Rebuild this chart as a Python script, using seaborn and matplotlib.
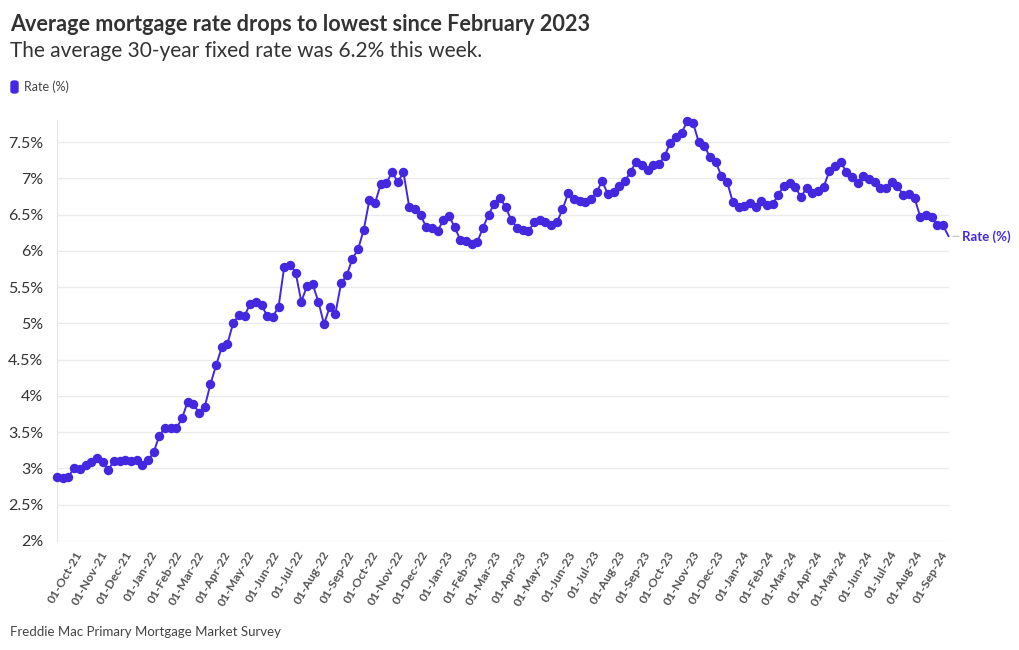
import numpy as np
import pandas as pd
import seaborn as sns
import matplotlib.pyplot as plt
import matplotlib.dates as mdates
from matplotlib.ticker import FuncFormatter
from matplotlib.patches import FancyBboxPatch

# Freddie Mac PMMS, 30-year fixed, weekly from 09-Sep-2021
start_date = "2021-09-09"
rates = [
    2.88, 2.86, 2.88, 3.01, 2.99, 3.05, 3.09, 3.14, 3.09, 2.98, 3.10, 3.10, 3.11, 3.10, 3.12, 3.05, 3.11,
    # 2022
    3.22, 3.45, 3.56, 3.55, 3.55, 3.69, 3.92, 3.89, 3.76, 3.85, 4.16, 4.42, 4.67,
    4.72, 5.00, 5.11, 5.10, 5.27, 5.30, 5.25, 5.10, 5.09, 5.23, 5.78, 5.81, 5.70,
    5.30, 5.51, 5.54, 5.30, 4.99, 5.22, 5.13, 5.55, 5.66, 5.89, 6.02, 6.29, 6.70,
    6.66, 6.92, 6.94, 7.08, 6.95, 7.08, 6.61, 6.58, 6.49, 6.33, 6.31, 6.27, 6.42,
    # 2023
    6.48, 6.33, 6.15, 6.13, 6.09, 6.12, 6.32, 6.50, 6.65, 6.73, 6.60, 6.42, 6.32,
    6.28, 6.27, 6.39, 6.43, 6.39, 6.35, 6.39, 6.57, 6.79, 6.71, 6.69, 6.67, 6.71,
    6.81, 6.96, 6.78, 6.81, 6.90, 6.96, 7.09, 7.23, 7.18, 7.12, 7.18, 7.19, 7.31,
    7.49, 7.57, 7.63, 7.79, 7.76, 7.50, 7.44, 7.29, 7.22, 7.03, 6.95, 6.67, 6.61,
    # 2024
    6.62, 6.66, 6.60, 6.69, 6.63, 6.64, 6.77, 6.90, 6.94, 6.88, 6.74, 6.87, 6.79,
    6.82, 6.88, 7.10, 7.17, 7.22, 7.09, 7.02, 6.94, 7.03, 6.99, 6.95, 6.87, 6.86,
    6.95, 6.89, 6.77, 6.78, 6.73, 6.47, 6.49, 6.46, 6.35, 6.35, 6.20,
]
series_name = "Rate (%)"
title = "Average mortgage rate drops to lowest since February 2023"
subtitle = "The average 30-year fixed rate was 6.2% this week."
source = "Freddie Mac Primary Mortgage Market Survey"
yticks = [2, 2.5, 3, 3.5, 4, 4.5, 5, 5.5, 6, 6.5, 7, 7.5]

COLOR = "#4328e0"

df = pd.DataFrame({
    "date": pd.date_range(start_date, periods=len(rates), freq="7D"),
    "rate": rates,
})

sns.set_style("white")
plt.rcParams["font.family"] = ["Lato", "DejaVu Sans"]

fig = plt.figure(figsize=(10.2, 6.5), dpi=100)
ax = fig.add_axes([0.056, 0.168, 0.874, 0.647])

sns.lineplot(data=df, x="date", y="rate", ax=ax, color=COLOR, linewidth=1.4,
             marker="o", markersize=6.8, markeredgewidth=0,
             markevery=list(range(len(df) - 1)), clip_on=False, zorder=3)

ax.set_xlim(df["date"].iloc[0], df["date"].iloc[-1])
ax.set_ylim(2, 7.8)
ax.set_xlabel("")
ax.set_ylabel("")

ax.set_yticks(yticks)
ax.yaxis.set_major_formatter(FuncFormatter(lambda v, p: f"{v:g}%"))
ax.grid(axis="y", color="#ebebeb", linewidth=1)
ax.tick_params(axis="y", length=0, labelsize=11.5, labelcolor="#333333", pad=10)

ax.xaxis.set_major_locator(mdates.MonthLocator())
ax.xaxis.set_major_formatter(mdates.DateFormatter("%d-%b-%y"))
ax.tick_params(axis="x", length=4, color="#dddddd", labelsize=8.8,
               labelcolor="#555555", pad=2)
for lbl in ax.get_xticklabels():
    lbl.set_rotation(60)
    lbl.set_ha("right")
    lbl.set_rotation_mode("anchor")
    lbl.set_fontweight("bold")

for s in ["top", "right", "bottom"]:
    ax.spines[s].set_visible(False)
ax.spines["left"].set_color("#e6e6e6")

# end label
last = df.iloc[-1]
ax.annotate(series_name, xy=(last["date"], last["rate"]), xytext=(10, 0),
            textcoords="offset points", va="center", ha="left",
            color=COLOR, fontsize=9.5, fontweight="bold",
            arrowprops=dict(arrowstyle="-", color="#aaaaaa", lw=0.6,
                            shrinkA=0, shrinkB=3), annotation_clip=False)

# titles
fig.text(0.0098, 0.963, title, fontsize=15.6, fontweight="bold", color="#333333", va="center")
fig.text(0.0098, 0.922, subtitle, fontsize=15, color="#333333", va="center")

# legend swatch
fig.patches.append(FancyBboxPatch((11 / 1020, 1 - 93 / 650), 7 / 1020, 12 / 650,
                                  boxstyle="round,pad=0,rounding_size=0.003",
                                  transform=fig.transFigure, color=COLOR))
fig.text(24 / 1020, 1 - 87 / 650, series_name, fontsize=9, color="#444444", va="center")

fig.text(0.0098, 0.028, source, fontsize=9.5, color="#444444", va="center")

fig.savefig("out.png", dpi=100)
